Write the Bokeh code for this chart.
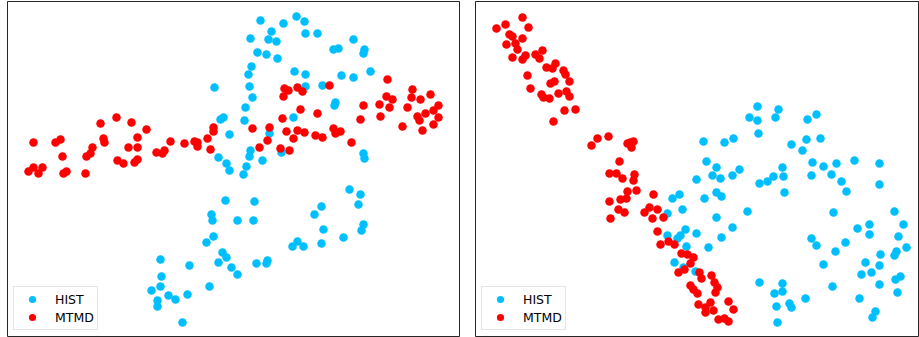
from bokeh.plotting import figure
from bokeh.layouts import row
from bokeh.models import Range1d, Legend, LegendItem
from bokeh.embed import file_html
from bokeh.resources import INLINE

# Panel A (left) embedding coordinates (y grows downward)
hist_a_x = [214, 220, 223, 229, 218, 226, 229, 225, 211, 212, 237, 213, 206, 222, 226, 218, 231, 237, 209,
            160, 189, 161, 160, 151, 157, 157, 168, 175, 187, 182,
            246, 243, 262, 254, 253, 349, 360, 358, 321, 314, 323, 321, 343, 363, 361, 292, 297, 303, 256, 267, 266,
            260, 283, 296, 304, 271, 268, 276, 250, 305, 317, 257, 266, 277, 251, 248, 249, 252, 245, 244,
            353, 364, 363, 333, 338, 294, 305, 305, 322, 341, 353, 370, 335, 334, 293, 269, 250, 249, 281, 363, 364]
hist_a_y = [87, 119, 117, 134, 157, 163, 170, 200, 214, 220, 220, 236, 242, 252, 257, 262, 267, 274, 286,
            259, 265, 276, 286, 290, 300, 306, 295, 299, 294, 322,
            166, 174, 160, 201, 220, 189, 194, 204, 206, 214, 229, 243, 237, 224, 230, 246, 241, 246, 263, 260, 263,
            20, 23, 16, 21, 31, 39, 41, 38, 33, 33, 52, 54, 58, 66, 74, 86, 97, 107, 120,
            39, 49, 53, 49, 48, 71, 74, 86, 85, 75, 77, 71, 102, 105, 117, 133, 150, 156, 152, 153, 158]
mtmd_a_x = [33, 55, 60, 62, 100, 116, 131, 146, 137, 103, 104, 92, 90, 86, 128, 137, 117, 123, 134, 137,
            156, 162, 164, 170, 184, 194, 197, 197, 213, 213, 207, 210, 28, 33, 42, 38, 63, 66, 85,
            284, 288, 283, 297, 302, 329, 387, 300, 282, 317, 363, 360, 379, 389, 386, 392, 380, 412, 411,
            420, 430, 407, 438, 433, 417, 419, 425, 438, 433, 422, 402, 252, 269, 286, 297, 304, 293, 267,
            259, 280, 289, 315, 322, 333, 335, 340, 351]
mtmd_a_y = [142, 142, 139, 156, 123, 117, 122, 129, 137, 138, 142, 147, 153, 156, 147, 147, 160, 163, 162, 159,
            152, 153, 150, 141, 143, 141, 142, 146, 127, 131, 138, 149, 171, 167, 167, 173, 173, 171, 173,
            88, 90, 96, 87, 91, 85, 79, 109, 118, 113, 105, 119, 104, 107, 96, 99, 116, 89, 97,
            99, 94, 107, 105, 110, 116, 120, 113, 117, 124, 130, 126, 128, 127, 131, 130, 132, 138, 140,
            147, 148, 150, 135, 137, 128, 133, 131, 142]

# Panel B (right)
hist_b_x = [757, 749, 757, 758, 778, 775, 816, 807, 703, 724, 733, 791, 802, 806, 820, 706, 716, 712, 720, 732,
            739, 696, 759, 716, 721, 704, 672, 679, 682, 667, 747, 716, 732, 721, 685, 680, 677, 667, 696, 686,
            708, 674, 683, 695, 759,
            782, 783, 773, 767, 784, 812, 823, 836, 811, 831, 841, 846, 854, 879, 879, 833, 811, 816, 845, 835,
            823, 832, 857, 869, 869, 894, 903, 898, 906, 880, 879, 896, 894, 865, 871, 861, 879, 895, 900, 897,
            859, 875, 872, 782, 774, 782, 776, 789, 791, 805, 777]
hist_b_y = [106, 117, 120, 133, 109, 117, 114, 119, 141, 142, 138, 144, 150, 139, 138, 161, 167, 175, 178, 175,
            169, 179, 183, 192, 196, 198, 198, 194, 209, 213, 211, 217, 227, 237, 229, 235, 238, 235, 233, 246,
            247, 262, 267, 271, 282,
            167, 176, 176, 181, 192, 162, 166, 163, 175, 174, 181, 191, 160, 163, 184, 212, 238, 245, 242, 251,
            264, 286, 228, 224, 234, 211, 224, 236, 247, 254, 265, 251, 255, 262, 272, 274, 284, 279, 276, 292,
            298, 311, 317, 283, 293, 291, 306, 303, 307, 298, 322]
mtmd_b_x = [522, 496, 505, 528, 509, 512, 522, 506, 515, 517, 512, 522, 525, 535, 539, 542, 546, 552, 555, 563,
            565, 569, 550, 554, 527, 530, 541, 543, 549, 558, 566, 569, 564, 575, 553, 591, 597, 608, 627, 630,
            633, 631, 619, 609, 616, 622, 634, 633, 609, 620, 626, 627, 636, 653, 618, 624, 610, 644, 649, 657,
            652, 663, 657, 660, 668, 674, 681, 687, 693, 690, 684, 678, 699, 701, 711, 714, 717, 715, 690, 693,
            697, 698, 705, 705, 713, 710, 728, 733, 718, 724, 728]
mtmd_b_y = [17, 28, 24, 27, 34, 36, 38, 44, 43, 49, 57, 59, 55, 54, 58, 50, 67, 68, 63, 70,
            74, 81, 83, 81, 75, 88, 94, 97, 98, 93, 91, 96, 110, 109, 121, 145, 138, 136, 143, 142,
            141, 147, 161, 173, 173, 178, 174, 180, 201, 199, 198, 191, 190, 194, 209, 212, 218, 212, 207, 209,
            218, 217, 231, 244, 241, 244, 253, 254, 257, 263, 269, 272, 272, 278, 275, 282, 287, 292, 285, 289,
            293, 304, 307, 312, 310, 302, 301, 309, 319, 318, 321]

labels = ["HIST", "MTMD"]
colors = ["#00BFFF", "#FF0000"]


def make_panel(width, border_left, border_right, xr, hx, hy, mx, my):
    p = figure(width=width, height=337, output_backend="svg", toolbar_location=None,
               x_range=Range1d(*xr), y_range=Range1d(336, 1),
               min_border_left=border_left, min_border_right=border_right,
               min_border_top=1, min_border_bottom=1)
    p.axis.visible = False
    p.grid.visible = False
    p.outline_line_color = "black"
    p.outline_line_width = 1
    p.outline_line_alpha = 0.85
    p.background_fill_color = "white"
    p.border_fill_color = "white"
    r1 = p.scatter(hx, hy, size=8.5, color=colors[0], line_color=None)
    r2 = p.scatter(mx, my, size=8.5, color=colors[1], line_color=None)
    leg = Legend(items=[LegendItem(label=labels[0], renderers=[r1]),
                        LegendItem(label=labels[1], renderers=[r2])],
                 location="bottom_left", margin=6, padding=3, spacing=0,
                 label_height=18, glyph_height=18, glyph_width=30, label_standoff=8,
                 label_text_font="DejaVu Sans", label_text_font_size="12.5px",
                 label_text_color="black",
                 border_line_color="#cccccc", border_line_width=1,
                 background_fill_color="white", background_fill_alpha=0.8)
    p.add_layout(leg, "center")
    return p


pa = make_panel(460, 7, 1, (7, 459), hist_a_x, hist_a_y, mtmd_a_x, mtmd_a_y)
pb = make_panel(459, 15, 0, (475, 919), hist_b_x, hist_b_y, mtmd_b_x, mtmd_b_y)
layout = row(pa, pb, spacing=0)

open("out.html", "w").write(file_html(layout, INLINE))
